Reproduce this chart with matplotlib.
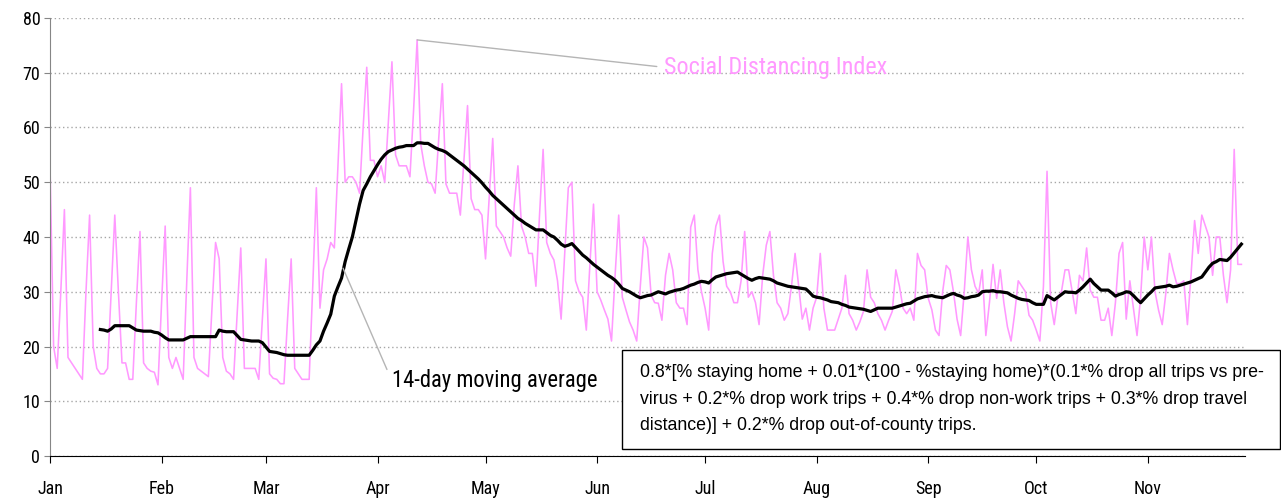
import numpy as np
import pandas as pd
import matplotlib
matplotlib.use('Agg')
import matplotlib.pyplot as plt
import matplotlib.dates as mdates
from matplotlib import font_manager
from matplotlib.patches import Rectangle

# daily social distancing index, 2020-01-01 .. 2020-11-27
sdi = [
    53, 20, 16, 30, 45, 18, 17, 16, 15, 14,
    30, 44, 20, 16, 15, 15, 16, 30, 44, 30,
    17, 17, 14, 14, 28, 41, 17, 16, 15.5, 15.3,
    13, 28, 42, 18, 16, 18, 16, 14, 32, 49,
    18, 16, 15.5, 15, 14.5, 27, 39, 36, 18, 15.5,
    15, 14, 26, 38, 16, 16, 16, 16, 14, 25,
    36, 15, 14.2, 14, 13.2, 13.2, 25, 36, 16, 15,
    14, 14, 14, 31, 49, 27, 34, 36, 39, 38,
    53, 68, 50, 51, 51, 50, 48, 60, 71, 54,
    54, 51, 53, 50, 61, 72, 55, 53, 53, 53,
    51, 63, 76, 57, 53, 50, 49.7, 48, 58, 68,
    49.7, 48, 48, 48, 44, 54, 64, 47, 45, 45,
    44, 36, 47, 58, 42, 41, 40, 38, 36.5, 46,
    53, 42, 40, 37, 37, 31, 44, 56, 39, 37,
    35.8, 32, 25, 37, 49, 50, 32, 30, 29, 23,
    35, 46, 30, 28.5, 26.7, 25, 21, 33, 44, 29,
    26.7, 24.5, 23, 21, 31, 40, 38, 29.4, 28, 27.9,
    24.8, 33, 37, 34, 28, 27, 27, 24, 41.8, 44,
    34, 30, 27, 23, 37, 42, 44, 35.5, 31, 30,
    28, 28, 32, 41, 29, 30, 28, 24, 33, 38.5,
    41, 33, 28, 27, 24.8, 26, 31, 37, 31, 25,
    27, 23, 27, 29, 37, 27, 23, 23, 23, 25,
    27, 33, 26, 24.8, 23, 24.5, 26.4, 34, 29, 28,
    26, 24.8, 23, 24.8, 26.4, 34, 31, 27, 26, 27,
    24.8, 37, 34.8, 34, 28.8, 26.7, 23, 22, 30, 34.8,
    34, 30, 25, 22, 30, 40, 34, 31, 29.7, 34,
    22, 28, 35, 28.8, 34, 28, 23.6, 21, 26, 32,
    31, 30, 25.7, 24.8, 23, 21, 31, 52, 28, 24,
    29, 30, 34, 34, 30, 26, 33, 32, 38, 30.3,
    29, 29, 24.8, 24.8, 27, 22, 28, 37, 39, 25,
    32, 27, 22, 29, 40, 34, 40, 30, 26.6, 24,
    29.7, 37, 34, 31.5, 31.5, 32, 24, 33, 43, 37,
    44, 42, 40, 33, 40, 40, 33, 28, 34, 56,
    35, 35,
]

# 14-day moving average as drawn, starting 2020-01-15
ma14 = [
    23.1, 23.0, 22.8, 23.2, 23.8, 23.8, 23.8, 23.8, 23.8, 23.4,
    23.0, 22.9, 22.8, 22.8, 22.8, 22.6, 22.5, 22.1, 21.6, 21.2,
    21.2, 21.2, 21.2, 21.2, 21.5, 21.8, 21.8, 21.8, 21.8, 21.8,
    21.8, 21.8, 21.8, 23.0, 22.8, 22.7, 22.7, 22.7, 22.0, 21.3,
    21.2, 21.1, 21.0, 21.0, 21.0, 20.7, 19.9, 19.1, 19.0, 18.9,
    18.7, 18.5, 18.4, 18.4, 18.4, 18.4, 18.4, 18.4, 18.4, 19.3,
    20.3, 21.0, 22.8, 24.3, 25.9, 29.2, 30.9, 32.5, 35.5, 37.8,
    40.0, 43.0, 46.0, 48.5, 49.7, 51.0, 52.1, 53.2, 54.2, 55.0,
    55.6, 55.9, 56.2, 56.4, 56.5, 56.7, 56.7, 56.7, 57.2, 57.2,
    57.1, 57.1, 56.7, 56.3, 56.0, 55.8, 55.5, 55.0, 54.5, 54.0,
    53.5, 53.0, 52.4, 51.8, 51.2, 50.6, 49.9, 49.1, 48.4, 47.6,
    47.0, 46.4, 45.8, 45.2, 44.6, 44.0, 43.4, 43.0, 42.5, 42.1,
    41.7, 41.3, 41.3, 41.3, 40.8, 40.3, 40.0, 39.4, 38.7, 38.3,
    38.5, 38.8, 38.1, 37.4, 36.7, 36.2, 35.6, 35.0, 34.5, 34.0,
    33.5, 33.0, 32.6, 32.1, 31.4, 30.6, 30.3, 30.0, 29.6, 29.2,
    28.9, 29.1, 29.3, 29.4, 29.7, 30.0, 29.8, 29.6, 29.9, 30.1,
    30.3, 30.4, 30.6, 30.9, 31.2, 31.4, 31.7, 31.9, 31.8, 31.6,
    32.2, 32.7, 32.9, 33.1, 33.3, 33.4, 33.5, 33.6, 33.2, 32.8,
    32.4, 32.1, 32.4, 32.6, 32.5, 32.4, 32.3, 32.0, 31.6, 31.4,
    31.2, 31.0, 30.9, 30.8, 30.7, 30.6, 30.5, 29.9, 29.2, 29.0,
    28.9, 28.7, 28.5, 28.2, 28.1, 28.0, 27.7, 27.5, 27.2, 27.1,
    27.0, 26.9, 26.8, 26.6, 26.4, 26.7, 27.0, 27.0, 27.0, 27.0,
    27.0, 27.2, 27.4, 27.6, 27.8, 27.9, 28.3, 28.7, 28.9, 29.1,
    29.2, 29.3, 29.1, 29.0, 28.9, 29.2, 29.5, 29.7, 29.4, 29.2,
    28.8, 28.9, 29.1, 29.2, 29.4, 30.0, 30.1, 30.1, 30.2, 30.0,
    30.0, 29.9, 29.8, 29.4, 29.1, 28.8, 28.6, 28.5, 28.4, 28.0,
    27.7, 27.7, 27.7, 29.3, 28.9, 28.5, 29.0, 29.5, 30.0, 29.9,
    29.9, 29.8, 30.3, 30.9, 31.6, 32.3, 31.5, 30.9, 30.3, 30.3,
    30.3, 29.8, 29.2, 29.5, 29.7, 30.0, 29.9, 29.3, 28.6, 28.0,
    28.7, 29.4, 30.0, 30.7, 30.8, 30.9, 31.0, 31.2, 30.9, 31.0,
    31.2, 31.4, 31.6, 31.8, 32.1, 32.4, 32.7, 33.6, 34.5, 35.2,
    35.5, 35.9, 35.8, 35.7, 36.3, 37.1, 37.9, 38.7,
]

formula = ("0.8*[% staying home + 0.01*(100 - %staying home)*(0.1*% drop all trips vs pre-\n"
           "virus + 0.2*% drop work trips + 0.4*% drop non-work trips + 0.3*% drop travel\n"
           "distance)] + 0.2*% drop out-of-county trips.")

installed = {f.name for f in font_manager.fontManager.ttflist}
narrow = 'DejaVu Sans'
for name in ['Liberation Sans Narrow', 'Roboto Condensed', 'Open Sans Condensed']:
    if name in installed:
        narrow = name
        break
plain = 'Liberation Sans' if 'Liberation Sans' in installed else 'DejaVu Sans'

dates = pd.date_range('2020-01-01', periods=len(sdi))
ma_dates = pd.date_range('2020-01-15', periods=len(ma14))

pink = '#ff99ff'

fig = plt.figure(figsize=(12.81, 4.99), dpi=100)
ax = fig.add_axes([50/1281, 43/499, 1195/1281, 438/499])

ax.plot(dates, sdi, color=pink, lw=1.15, zorder=2)
ax.plot(ma_dates, ma14, color='black', lw=2.3, zorder=3)

ax.set_ylim(0, 80)
ax.set_xlim(dates[0], dates[0] + pd.Timedelta(days=332))
ax.set_yticks(range(0, 81, 10))
ax.yaxis.grid(True, linestyle=(0, (1, 2)), color='#a6a6a6', lw=1.0)
ax.set_axisbelow(True)

ax.xaxis.set_major_locator(mdates.MonthLocator())
ax.xaxis.set_major_formatter(mdates.DateFormatter('%b'))

for s in ['top', 'right']:
    ax.spines[s].set_visible(False)
ax.spines['left'].set_color('#868686')
ax.spines['bottom'].set_color('black')
ax.tick_params(axis='y', length=4, color='#868686', labelsize=13, pad=3)
ax.tick_params(axis='x', length=5, color='black', labelsize=13, pad=12, direction='out')
for lab in ax.get_xticklabels() + ax.get_yticklabels():
    lab.set_fontfamily(narrow)

# labels with leader lines
peak_day = dates[int(np.argmax(sdi))]
ax.annotate('Social Distancing Index', xy=(peak_day, max(sdi)),
            xytext=(dates[170] + pd.Timedelta(hours=12), 71.0), color=pink, fontsize=17.5,
            family=narrow, va='center', ha='left',
            arrowprops=dict(arrowstyle='-', color='#b5b5b5', lw=1.0, shrinkA=3, shrinkB=0,
                            relpos=(0, 0.5)))
ax.annotate('14-day moving average', xy=(dates[81] + pd.Timedelta(hours=10), 34.3),
            xytext=(dates[95], 13.7), color='black', fontsize=16.3, family=narrow,
            va='center', ha='left',
            arrowprops=dict(arrowstyle='-', color='#b5b5b5', lw=1.0, shrinkA=4, shrinkB=0,
                            relpos=(0, 0.5)))

fig.patches.append(Rectangle((622/1281, 50/499), 658/1281, 99/499, transform=fig.transFigure,
                             facecolor='white', edgecolor='black', lw=1.0, zorder=5))
fig.text(640/1281, 100/499, formula, family=plain, fontsize=12.8, va='center', ha='left',
         linespacing=1.7, zorder=6)

fig.savefig('out.png', dpi=100)
